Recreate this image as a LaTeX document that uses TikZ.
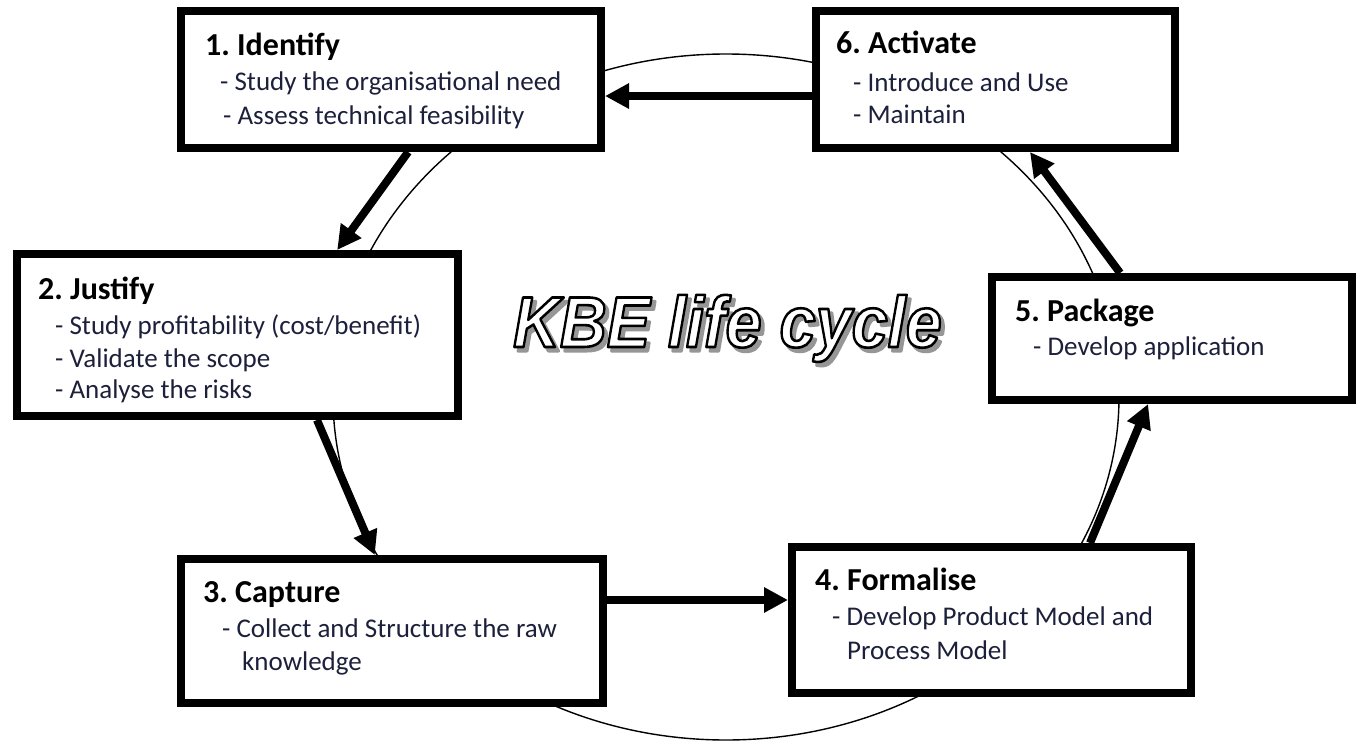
\documentclass[tikz,border=0pt]{standalone}
\usepackage{fontspec}
\setmainfont{Carlito}
\newfontfamily\kbefont{Liberation Sans}
\usetikzlibrary{arrows.meta,calc}
\frenchspacing

\definecolor{bodytext}{RGB}{28,32,58}
\definecolor{shadowgray}{RGB}{150,150,150}

% glyphs filled in the current colour and stroked in black
\newcommand\strokedtext[2]{\special{pdf:code q 2 Tr #1 w 0 G 1 j}#2\special{pdf:code Q}}
% glyphs filled and stroked in grey
\newcommand\greytext[2]{\special{pdf:code q 2 Tr #1 w 0.59 G 1 j}#2\special{pdf:code Q}}
% outlined white lettering over a grey drop shadow
\newcommand\shadowtitle[1]{%
  \makebox[0pt][l]{\hspace*{4pt}\raisebox{-4pt}{\color{shadowgray}\greytext{3}{#1}}}%
  \strokedtext{2.6}{#1}}

\tikzset{
  stage/.style={draw=black, line width=8pt, fill=white, inner sep=0pt},
  head/.style={anchor=base west, inner sep=0pt, text=black,
    font=\fontsize{32}{36}\selectfont\bfseries},
  item/.style={anchor=base west, inner sep=0pt, text=bodytext,
    font=\fontsize{27}{32}\selectfont},
  flow/.style={line width=8pt, -{Triangle[length=24pt,width=24pt]}},
  orbit/.style={line width=1.4pt, draw=black},
  kbe/.style={anchor=base west, inner sep=0pt,
    font=\fontsize{72}{80}\selectfont\kbefont\bfseries\itshape},
}

\begin{document}
\begin{tikzpicture}[x=1pt, y=-1pt]
  \useasboundingbox (0,0) rectangle (1358,744);
  \fill[white] (0,0) rectangle (1358,744);

  % the cycle behind the stages
  \draw[orbit] (726,397) ellipse [x radius=393, y radius=343];

  % stage boxes
  \node[stage, minimum width=420pt, minimum height=137pt] (b1) at (391,79.5) {};
  \node[stage, minimum width=441pt, minimum height=162pt] (b2) at (237.5,335) {};
  \node[stage, minimum width=422pt, minimum height=144pt] (b3) at (392,631) {};
  \node[stage, minimum width=399pt, minimum height=146pt] (b4) at (991.5,620) {};
  \node[stage, minimum width=360pt, minimum height=123pt] (b5) at (1172,338.5) {};
  \node[stage, minimum width=359pt, minimum height=137pt] (b6) at (995.5,79.5) {};

  % stage texts
  \node[head] (h1) at (205,55) {1. Identify};
  \node[item] (i1a) at (220,90) {- Study the organisational need};
  \node[item] (i1b) at (223,124) {- Assess technical feasibility};

  \node[head] (h2) at (38,299) {2. Justify};
  \node[item] (i2a) at (55,334) {- Study profitability (cost/benefit)};
  \node[item] (i2b) at (55,367) {- Validate the scope};
  \node[item] (i2c) at (55,398) {- Analyse the risks};

  \node[head] (h3) at (203,602) {3. Capture};
  \node[item] (i3a) at (222,637) {- Collect and Structure the raw};
  \node[item] (i3b) at (242,670) {knowledge};

  \node[head] (h4) at (815,590) {4. Formalise};
  \node[item] (i4a) at (832,625) {- Develop Product Model and};
  \node[item] (i4b) at (847,659) {Process Model};

  \node[head] (h5) at (1015,321) {5. Package};
  \node[item] (i5a) at (1033,355) {- Develop application};

  \node[head] (h6) at (836,53) {6. Activate};
  \node[item] (i6a) at (853,91) {- Introduce and Use};
  \node[item] (i6b) at (853,123) {- Maintain};

  % arrow end points on the box borders
  \coordinate (s12) at ($(b1.south west)!0.54!(b1.south east)$);
  \coordinate (e12) at ($(b2.north west)!0.722!(b2.north east)$);
  \coordinate (s23) at ($(b2.south west)!0.677!(b2.south east)$);
  \coordinate (e23) at ($(b3.north west)!0.46!(b3.north east)$);
  \coordinate (s34) at ($(b3.north east)!0.296!(b3.south east)$);
  \coordinate (s45) at ($(b4.north west)!0.742!(b4.north east)$);
  \coordinate (e45) at ($(b5.south west)!0.435!(b5.south east)$);
  \coordinate (s56) at ($(b5.north west)!0.359!(b5.north east)$);
  \coordinate (e56) at ($(b6.south west)!0.594!(b6.south east)$);
  \coordinate (s61) at ($(b6.north west)!0.614!(b6.south west)$);

  % flow of the life cycle
  \draw[flow] (s12) -- (e12);
  \draw[flow] (s23) -- (e23);
  \draw[flow] (s34) -- (s34 -| b4.west);
  \draw[flow] (s45) -- (e45);
  \draw[flow] (s56) -- (e56);
  \draw[flow] (s61) -- (s61 -| b1.east);

  % outlined title with a drop shadow
  \node[kbe, text=white] (kbe) at (513,347)
    {\scalebox{0.9}[1]{\shadowtitle{KBE life cycle}}};
\end{tikzpicture}
\end{document}
